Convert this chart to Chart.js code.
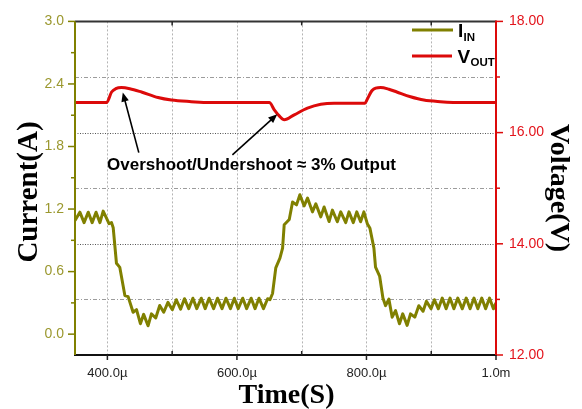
<!DOCTYPE html>
<html><head><meta charset="utf-8">
<script src="https://cdn.jsdelivr.net/npm/chart.js@4"></script>
<style>html,body{margin:0;padding:0;background:#fff;}#wrap{width:582px;height:409px;}</style>
</head><body><div id="wrap"><canvas id="c" width="582" height="409"></canvas></div>
<script>
// ---- data (time in microseconds) ----
const currentTime = [350, 357.5, 364, 370.5, 376.5, 382.5, 388.5, 393.5, 398.8, 402.5, 406.4, 409, 414, 419.2, 427, 432, 439.7, 445, 451, 456, 462.8, 468, 474.6, 480.8, 487, 493.5, 500.3, 506.4, 513, 519, 525.6, 532, 538, 545, 551, 557, 564, 570, 577, 583, 590, 596, 602, 609, 615, 622, 628, 634, 641, 647.4, 651, 655, 660, 666.4, 670.5, 673, 680.8, 685.9, 692, 697.2, 703.8, 709, 716.6, 721.8, 729.5, 734.6, 742.3, 747.4, 755, 760.3, 768, 773, 779.7, 785, 791, 796, 801.3, 805.4, 811.5, 814, 820.3, 825.4, 829.5, 834.6, 839.7, 844.9, 851, 856, 862.8, 868, 874.6, 880.8, 887.4, 892.6, 899.7, 904.9, 911, 917, 923, 929, 935, 941, 948, 954, 960, 966, 972, 978, 984, 990, 996, 1000];
const currentValue = [1.09, 1.17, 1.07, 1.17, 1.07, 1.17, 1.07, 1.18, 1.11, 1.06, 1.07, 1.02, 0.68, 0.64, 0.37, 0.36, 0.21, 0.235, 0.10, 0.19, 0.08, 0.195, 0.155, 0.275, 0.21, 0.305, 0.235, 0.33, 0.24, 0.34, 0.245, 0.345, 0.245, 0.345, 0.245, 0.345, 0.245, 0.345, 0.245, 0.345, 0.245, 0.345, 0.245, 0.345, 0.245, 0.345, 0.245, 0.345, 0.245, 0.34, 0.33, 0.39, 0.636, 0.73, 0.825, 1.05, 1.10, 1.267, 1.24, 1.337, 1.23, 1.305, 1.173, 1.25, 1.125, 1.22, 1.08, 1.19, 1.078, 1.173, 1.07, 1.173, 1.07, 1.173, 1.078, 1.173, 1.06, 1.015, 0.825, 0.643, 0.557, 0.346, 0.273, 0.336, 0.163, 0.226, 0.10, 0.195, 0.084, 0.195, 0.163, 0.273, 0.22, 0.315, 0.243, 0.33, 0.243, 0.346, 0.243, 0.346, 0.243, 0.346, 0.243, 0.346, 0.243, 0.346, 0.243, 0.346, 0.243, 0.346, 0.243, 0.30];
const voltageTime = [350, 398.8, 406.5, 413, 421.8, 434.6, 452.6, 478.2, 498.8, 529.5, 557.7, 650, 657.7, 665.4, 673.1, 688.5, 708.9, 729.5, 750, 797.7, 801.2, 808.9, 821.8, 834.6, 846.9, 868, 888.5, 914, 950, 1000];
const voltageValue = [16.54, 16.54, 16.73, 16.79, 16.81, 16.79, 16.73, 16.63, 16.585, 16.557, 16.54, 16.54, 16.41, 16.30, 16.23, 16.32, 16.44, 16.51, 16.53, 16.53, 16.60, 16.76, 16.81, 16.78, 16.73, 16.645, 16.585, 16.557, 16.54, 16.54];
const xTickValues = [400, 600, 800, 1000];
const xTickLabels = ['400.0\u00b5', '600.0\u00b5', '800.0\u00b5', '1.0m'];
const xMinorValues = [500, 700, 900];
const currentTicks = [0, 0.6, 1.2, 1.8, 2.4, 3.0];
const currentMinor = [0.3, 0.9, 1.5, 2.1, 2.7];
const voltageTicks = [12, 14, 16, 18];
const voltageMinor = [13, 15, 17];
const gridTimes = [400, 500, 600, 700, 800, 900];

const OLIVE = '#808000', OLIVE_TXT = '#9b982f', RED = '#dc0a0a', RED_TXT = '#e3141c';
const SANS = '"Liberation Sans", Arial, sans-serif', SERIF = '"Liberation Serif", "Times New Roman", serif';

function arrow(ctx, x1, y1, x2, y2) {
  const a = Math.atan2(y2 - y1, x2 - x1), L = 9, W = 3.8;
  ctx.beginPath(); ctx.moveTo(x1, y1); ctx.lineTo(x2 - Math.cos(a) * L * 0.8, y2 - Math.sin(a) * L * 0.8); ctx.stroke();
  ctx.beginPath(); ctx.moveTo(x2, y2);
  ctx.lineTo(x2 - Math.cos(a) * L + Math.sin(a) * W, y2 - Math.sin(a) * L - Math.cos(a) * W);
  ctx.lineTo(x2 - Math.cos(a) * L - Math.sin(a) * W, y2 - Math.sin(a) * L + Math.cos(a) * W);
  ctx.closePath(); ctx.fill();
}

const decor = {
  id: 'decor',
  beforeDatasetsDraw(chart) {
    const ctx = chart.ctx, ca = chart.chartArea, x = chart.scales.x, yV = chart.scales.yV;
    ctx.save();
    ctx.lineWidth = 1;
    gridTimes.forEach(t => {
      const px = Math.round(x.getPixelForValue(t)) + 0.5;
      ctx.strokeStyle = '#b4b4b4'; ctx.setLineDash([2, 2]);
      ctx.beginPath(); ctx.moveTo(px, ca.top); ctx.lineTo(px, ca.bottom); ctx.stroke();
    });
    [13, 14, 15, 16, 17].forEach(v => {
      const py = Math.round(yV.getPixelForValue(v)) + 0.5;
      if (v === 14 || v === 16) { ctx.strokeStyle = '#555'; ctx.setLineDash([1, 1.5]); }
      else { ctx.strokeStyle = '#9c9c9c'; ctx.setLineDash([4, 2, 1, 2]); }
      ctx.beginPath(); ctx.moveTo(ca.left, py); ctx.lineTo(ca.right, py); ctx.stroke();
    });
    ctx.restore();
  },
  afterDatasetsDraw(chart) {
    const ctx = chart.ctx, ca = chart.chartArea, x = chart.scales.x, yI = chart.scales.yI, yV = chart.scales.yV;
    ctx.save();
    ctx.setLineDash([]);
    ctx.lineWidth = 2;
    // axes lines
    ctx.strokeStyle = '#333'; ctx.beginPath(); ctx.moveTo(ca.left, ca.top); ctx.lineTo(ca.right, ca.top); ctx.stroke();
    ctx.strokeStyle = '#111'; ctx.beginPath(); ctx.moveTo(ca.left - 1, ca.bottom); ctx.lineTo(ca.right + 1, ca.bottom); ctx.stroke();
    ctx.strokeStyle = OLIVE; ctx.beginPath(); ctx.moveTo(ca.left, ca.top); ctx.lineTo(ca.left, ca.bottom); ctx.stroke();
    ctx.strokeStyle = RED; ctx.beginPath(); ctx.moveTo(ca.right, ca.top - 1); ctx.lineTo(ca.right, ca.bottom); ctx.stroke();
    // tick marks
    ctx.lineWidth = 1.5;
    ctx.strokeStyle = OLIVE;
    currentTicks.forEach(v => { const p = yI.getPixelForValue(v); ctx.beginPath(); ctx.moveTo(ca.left - 7, p); ctx.lineTo(ca.left, p); ctx.stroke(); });
    currentMinor.forEach(v => { const p = yI.getPixelForValue(v); ctx.beginPath(); ctx.moveTo(ca.left - 4, p); ctx.lineTo(ca.left, p); ctx.stroke(); });
    ctx.strokeStyle = RED;
    voltageTicks.forEach(v => { const p = yV.getPixelForValue(v); ctx.beginPath(); ctx.moveTo(ca.right, p); ctx.lineTo(ca.right + 7, p); ctx.stroke(); });
    voltageMinor.forEach(v => { const p = yV.getPixelForValue(v); ctx.beginPath(); ctx.moveTo(ca.right, p); ctx.lineTo(ca.right + 4, p); ctx.stroke(); });
    ctx.strokeStyle = '#222';
    xTickValues.forEach(v => { const p = x.getPixelForValue(v); ctx.beginPath(); ctx.moveTo(p, ca.bottom); ctx.lineTo(p, ca.bottom + 5); ctx.stroke(); });
    xMinorValues.forEach(v => { const p = x.getPixelForValue(v);
      ctx.beginPath(); ctx.moveTo(p, ca.bottom); ctx.lineTo(p, ca.bottom - 4); ctx.stroke();
      ctx.beginPath(); ctx.moveTo(p, ca.top); ctx.lineTo(p, ca.top + 4); ctx.stroke(); });
    // axis titles
    ctx.fillStyle = '#000';
    ctx.font = 'bold 28px ' + SERIF;
    ctx.textAlign = 'center'; ctx.textBaseline = 'alphabetic';
    ctx.fillText('Time(S)', (ca.left + ca.right) / 2 + 1, 403);
    ctx.save(); ctx.translate(37, 192); ctx.rotate(-Math.PI / 2); ctx.font = 'bold 29px ' + SERIF; ctx.fillText('Current(A)', 0, 0); ctx.restore();
    ctx.save(); ctx.translate(551, 188); ctx.rotate(Math.PI / 2); ctx.fillText('Voltage(V)', 0, 0); ctx.restore();
    // legend
    ctx.lineWidth = 3;
    ctx.strokeStyle = OLIVE; ctx.beginPath(); ctx.moveTo(412, 30); ctx.lineTo(453, 30); ctx.stroke();
    ctx.strokeStyle = RED; ctx.beginPath(); ctx.moveTo(412, 56); ctx.lineTo(452, 56); ctx.stroke();
    ctx.textAlign = 'left'; ctx.fillStyle = '#000';
    ctx.font = 'bold 19px ' + SANS; ctx.fillText('I', 458, 37);
    ctx.font = 'bold 11.5px ' + SANS; ctx.fillText('IN', 463.5, 40.5);
    ctx.font = 'bold 19px ' + SANS; ctx.fillText('V', 457.5, 63);
    ctx.font = 'bold 11.5px ' + SANS; ctx.fillText('OUT', 470.5, 66);
    // annotation
    ctx.font = 'bold 17px ' + SANS;
    ctx.fillText('Overshoot/Undershoot \u2248 3% Output', x.getPixelForValue(399.5), yV.getPixelForValue(15.32));
    ctx.lineWidth = 1.6; ctx.strokeStyle = '#000'; ctx.fillStyle = '#000';
    arrow(ctx, x.getPixelForValue(448.5), yV.getPixelForValue(15.64), x.getPixelForValue(423.8), yV.getPixelForValue(16.72));
    arrow(ctx, x.getPixelForValue(593), yV.getPixelForValue(15.60), x.getPixelForValue(662.3), yV.getPixelForValue(16.33));
    ctx.restore();
  }
};

new Chart(document.getElementById('c'), {
  type: 'line',
  data: {
    datasets: [
      { label: 'IIN', data: currentTime.map((t, i) => ({ x: t, y: currentValue[i] })), yAxisID: 'yI',
        borderColor: OLIVE, borderWidth: 3, pointRadius: 0, tension: 0, borderJoinStyle: 'round' },
      { label: 'VOUT', data: voltageTime.map((t, i) => ({ x: t, y: voltageValue[i] })), yAxisID: 'yV',
        borderColor: RED, borderWidth: 3, pointRadius: 0, cubicInterpolationMode: 'monotone' }
    ]
  },
  options: {
    responsive: false, animation: false, devicePixelRatio: 1,
    layout: { padding: { top: 17, left: 0, right: 0, bottom: 0 } },
    plugins: { legend: { display: false }, tooltip: { enabled: false } },
    scales: {
      x: { type: 'linear', position: 'bottom', min: 350, max: 1000,
        afterFit(s) { s.height = 54; },
        afterBuildTicks(s) { s.ticks = xTickValues.map(v => ({ value: v })); },
        ticks: { autoSkip: false, maxRotation: 0, minRotation: 0, padding: 11, color: '#222',
          font: { family: SANS, size: 13 }, callback: (v, i) => xTickLabels[i] },
        grid: { display: false, drawTicks: false }, border: { display: false } },
      yI: { type: 'linear', position: 'left', min: -0.2, max: 3.0,
        afterFit(s) { s.width = 75; },
        afterBuildTicks(s) { s.ticks = currentTicks.map(v => ({ value: v })); },
        ticks: { padding: 11, color: OLIVE_TXT, font: { family: SANS, size: 14 }, callback: v => Number(v).toFixed(1) },
        grid: { display: false, drawTicks: false }, border: { display: false } },
      yV: { type: 'linear', position: 'right', min: 12, max: 18,
        afterFit(s) { s.width = 86; },
        afterBuildTicks(s) { s.ticks = voltageTicks.map(v => ({ value: v })); },
        ticks: { padding: 13, color: RED_TXT, font: { family: SANS, size: 14 }, callback: v => Number(v).toFixed(2) },
        grid: { display: false, drawTicks: false }, border: { display: false } }
    }
  },
  plugins: [decor]
});
</script>
</body></html>
